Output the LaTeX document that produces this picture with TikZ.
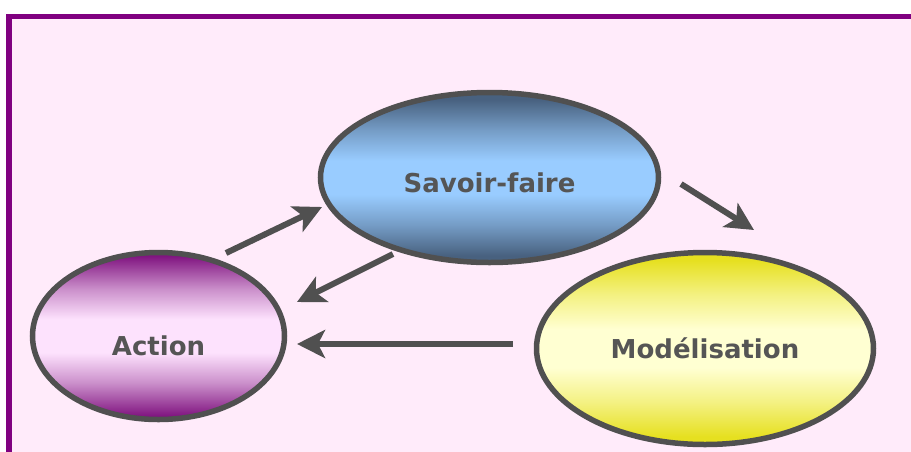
\documentclass[tikz,border=0pt]{standalone}
\usepackage{fontspec}
\setmainfont{DejaVu Sans}
\usetikzlibrary{shapes.geometric,arrows.meta,calc}
\definecolor{bgpink}{RGB}{255,235,250}
\definecolor{framepurple}{RGB}{128,0,128}
\definecolor{edgegray}{RGB}{80,80,80}
\definecolor{txtgray}{RGB}{85,85,85}
\definecolor{blueDark}{RGB}{72,97,127}
\definecolor{blueLight}{RGB}{153,204,255}
\definecolor{plumDark}{RGB}{128,20,128}
\definecolor{plumLight}{RGB}{253,226,253}
\definecolor{lemonDark}{RGB}{230,224,32}
\definecolor{lemonLight}{RGB}{255,255,210}
% vertical fills: dark rims fading smoothly into a light middle band
\pgfdeclareverticalshading{bluefill}{100bp}{color(0bp)=(blueDark); color(27bp)=(blueDark);
  color(36bp)=(blueDark!45!blueLight); color(45bp)=(blueLight); color(55bp)=(blueLight);
  color(64bp)=(blueDark!45!blueLight); color(73bp)=(blueDark); color(100bp)=(blueDark)}
\pgfdeclareverticalshading{plumfill}{100bp}{color(0bp)=(plumDark); color(26bp)=(plumDark);
  color(36bp)=(plumDark!40!plumLight); color(45bp)=(plumLight); color(55bp)=(plumLight);
  color(64bp)=(plumDark!40!plumLight); color(74bp)=(plumDark); color(100bp)=(plumDark)}
\pgfdeclareverticalshading{lemonfill}{100bp}{color(0bp)=(lemonDark); color(27bp)=(lemonDark);
  color(36bp)=(lemonDark!45!lemonLight); color(45bp)=(lemonLight); color(55bp)=(lemonLight);
  color(64bp)=(lemonDark!45!lemonLight); color(73bp)=(lemonDark); color(100bp)=(lemonDark)}
\tikzset{
  bubble/.style={ellipse, draw=edgegray, line width=5.5pt, inner sep=0pt},
  lbl/.style={font=\bfseries\fontsize{26}{30}\selectfont, text=txtgray, anchor=base, inner sep=0pt},
  flow/.style={draw=edgegray, line width=6pt,
    -{Stealth[length=28pt, width=28pt, inset=7pt]}},
}
\begin{document}
\begin{tikzpicture}[x=1pt, y=-1pt]
  \useasboundingbox (0,0) rectangle (911,451);
  % framed pink panel
  \fill[white] (0,0) rectangle (911,451);
  \filldraw[fill=bgpink, draw=framepurple, line width=5.5pt] (9,16.5) rectangle (940,480);

  % the three ellipses
  \node[bubble, minimum width=338pt, minimum height=170pt, shading=bluefill]
        (sf) at (489.5,177.5) {};
  \node[bubble, minimum width=252pt, minimum height=167pt, shading=plumfill]
        (act) at (158.5,336) {};
  \node[bubble, minimum width=337pt, minimum height=192pt, shading=lemonfill]
        (mod) at (705,348.5) {};

  % labels
  \node[lbl] (sft) at ($(sf.center)+(0,14.5)$) {Savoir-faire};
  \node[lbl] (actt) at ($(act.center)+(0,19)$) {Action};
  \node[lbl] (modt) at ($(mod.center)+(0,9.5)$) {Modélisation};

  % arrow end points
  \coordinate (a1s) at (226,253);
  \coordinate (a1e) at (322,207);
  \coordinate (a2s) at (393,254);
  \coordinate (a2e) at (297,302);
  \coordinate (a3s) at (513,344);
  \coordinate (a3e) at (297,344);
  \coordinate (a4s) at (681,184);
  \coordinate (a4e) at (754,230);

  \draw[flow] (a1s) -- (a1e);
  \draw[flow] (a2s) -- (a2e);
  \draw[flow] (a3s) -- (a3e);
  \draw[flow] (a4s) -- (a4e);
\end{tikzpicture}
\end{document}
